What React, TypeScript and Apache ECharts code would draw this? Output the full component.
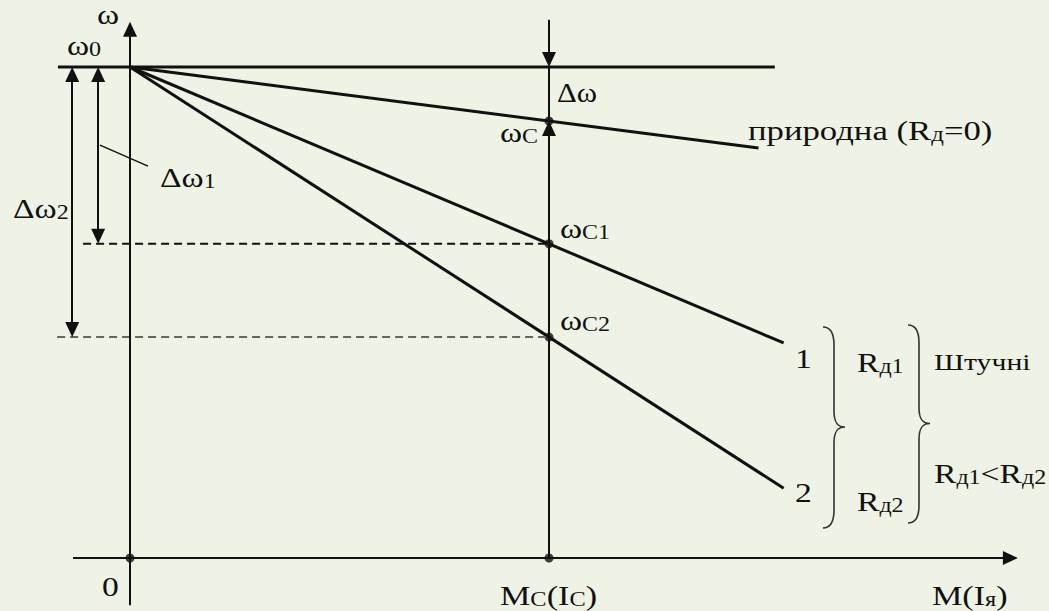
import React, { useEffect, useRef } from 'react';
import * as echarts from 'echarts';

// ---- data (arbitrary units: torque M in units of Mc, speed ω in % of ω0) ----
const OMEGA0 = 100;
const MC = 1;
const naturalLine: number[][] = [[0, 100], [1.5, 83.5]];
const line1: number[][] = [[0, 100], [1.56, 43.8]];
const line2: number[][] = [[0, 100], [1.56, 14.2]];
const workingSpeeds: number[] = [89, 64, 45]; // ωC, ωC1, ωC2

// ---- view extents (data units) ----
const xRange = [-0.3103, 2.1933];
const yRange = [-10.794, 113.645];
const xAxisExtent = [-0.136, 2.119];
const yAxisExtent = [-9.6, 109.2];
const omega0Extent = [-0.172, 1.539];
const mcTop = 109.6;
const dash1Start = -0.112;
const dash2Start = -0.174;
const dOmega1X = -0.076;
const dOmega2X = -0.138;

const W = 1049;
const H = 611;
const BG = '#eff3e6';
const INK = '#111';
const FONT = '"Liberation Serif", "Times New Roman", serif';
const STRETCH = 1.2;

const yUnit = (yRange[1] - yRange[0]) / H; // data units per px
const xUnit = (xRange[1] - xRange[0]) / W;
const AH = 7.5; // half arrow length px
const AS = [14, 15];

function seg(from: number[], to: number[], start: string, end: string) {
  return [
    { coord: from, symbol: start, symbolSize: AS },
    { coord: to, symbol: end, symbolSize: AS },
  ];
}

function plain(name: string, data: number[][], width: number, color = INK, type: any = 'solid') {
  return {
    name,
    type: 'line',
    data,
    showSymbol: false,
    symbol: 'none',
    silent: true,
    lineStyle: { color, width, type },
  };
}

function arrows(name: string, items: any[], width = 2) {
  return {
    name,
    type: 'line',
    data: [],
    silent: true,
    markLine: {
      silent: true,
      animation: false,
      label: { show: false },
      lineStyle: { color: INK, width, type: 'solid' },
      itemStyle: { color: INK },
      emphasis: { disabled: true },
      data: items,
    },
  };
}

const rich = {
  b: { fontFamily: FONT, fontSize: 28, color: INK, verticalAlign: 'bottom' },
  s: { fontFamily: FONT, fontSize: 20, lineHeight: 16, color: INK, verticalAlign: 'bottom' },
  t: { fontFamily: FONT, fontSize: 24, color: INK, verticalAlign: 'bottom' },
};

function label(x: number, baseline: number, text: string, sx = STRETCH) {
  return {
    type: 'text',
    x,
    y: baseline + 4.5,
    scaleX: sx,
    silent: true,
    style: {
      text,
      rich,
      fontFamily: FONT,
      fontSize: 28,
      fill: INK,
      align: 'left',
      verticalAlign: 'bottom',
    },
  };
}

const braceD =
  'M0,0 C8,0 11,6 11,18 L11,84 C11,95 14,100 22,100 C14,100 11,105 11,116 L11,183 C11,195 8,201 0,201';

export default function App() {
  const ref = useRef<HTMLDivElement>(null);
  useEffect(() => {
    if (!ref.current) return;
    echarts.graphic.registerShape('brace', echarts.graphic.extendPath(braceD, {}) as any);
    const chart = echarts.init(ref.current, undefined, { renderer: 'svg', width: W, height: H });

    const [wC, wC1, wC2] = workingSpeeds;
    const ay = AH * yUnit;
    const ax = AH * xUnit;

    const option: any = {
      animation: false,
      backgroundColor: BG,
      grid: { left: 0, right: 0, top: 0, bottom: 0, containLabel: false },
      xAxis: { type: 'value', min: xRange[0], max: xRange[1], show: false },
      yAxis: { type: 'value', min: yRange[0], max: yRange[1], show: false },
      series: [
        arrows('axes', [
          seg([xAxisExtent[0], 0], [xAxisExtent[1] - ax, 0], 'none', 'triangle'),
          seg([0, yAxisExtent[0]], [0, yAxisExtent[1] - ay], 'none', 'triangle'),
        ]),
        plain('ω0', [[omega0Extent[0], OMEGA0], [omega0Extent[1], OMEGA0]], 3),
        plain('природна', naturalLine, 3),
        plain('1', line1, 3),
        plain('2', line2, 3),
        plain('Mc', [[MC, OMEGA0], [MC, wC]], 2),
        plain('dash1', [[dash1Start, wC1], [MC, wC1]], 2, INK, [8, 5]),
        plain('dash2', [[dash2Start, wC2], [MC, wC2]], 2, '#666', [8, 5]),
        plain('leader', [[-0.0716, 84.1], [0.043, 79.8]], 1.5),
        arrows('Mc arrows', [
          seg([MC, mcTop], [MC, OMEGA0 + ay], 'none', 'triangle'),
          seg([MC, 0], [MC, wC - ay], 'none', 'triangle'),
        ]),
        arrows('Δω arrows', [
          seg([dOmega1X, OMEGA0 - ay], [dOmega1X, wC1 + ay], 'triangle', 'triangle'),
          seg([dOmega2X, OMEGA0 - ay], [dOmega2X, wC2 + ay], 'triangle', 'triangle'),
        ]),
        {
          name: 'points',
          type: 'scatter',
          silent: true,
          symbolSize: 9,
          itemStyle: { color: INK },
          data: [[0, 0], [MC, 0], [MC, wC], [MC, wC1], [MC, wC2]],
        },
      ],
      graphic: [
        label(97, 24, '{b|ω}'),
        label(67, 55, '{b|ω}{s|0}'),
        label(160, 187, '{b|Δω}{s|1}'),
        label(13, 218, '{b|Δω}{s|2}'),
        label(557, 102, '{b|Δω}', 1.1),
        label(500, 142, '{b|ω}{s|C}'),
        label(560, 238, '{b|ω}{s|C1}'),
        label(560, 330, '{b|ω}{s|C2}'),
        label(748, 140, '{b|природна (R}{s|д}{b|=0)}', 1.24),
        label(795, 368, '{b|1}'),
        label(795, 502, '{b|2}'),
        label(857, 372, '{b|R}{s|д1}'),
        label(857, 511, '{b|R}{s|д2}'),
        label(934, 370, '{t|Штучні}', 1.24),
        label(934, 483, '{b|R}{s|д1}{b|<R}{s|д2}'),
        label(102, 596, '{b|0}'),
        label(500, 605, '{b|M}{s|C}{b|(I}{s|C}{b|)}', 1.22),
        label(932, 605, '{b|M(I}{s|я}{b|)}', 1.22),
        {
          type: 'brace',
          x: 823,
          y: 327,
          silent: true,
          style: { stroke: '#333', fill: 'none', lineWidth: 1.6 },
        },
        {
          type: 'brace',
          x: 908,
          y: 325,
          scaleY: 0.985,
          silent: true,
          style: { stroke: '#333', fill: 'none', lineWidth: 1.6, strokeNoScale: true },
        },
      ],
    };
    chart.setOption(option);
    return () => chart.dispose();
  }, []);

  return (
    <div
      ref={ref}
      style={{ position: 'fixed', left: 0, top: 0, width: W, height: H, background: BG }}
    />
  );
}
